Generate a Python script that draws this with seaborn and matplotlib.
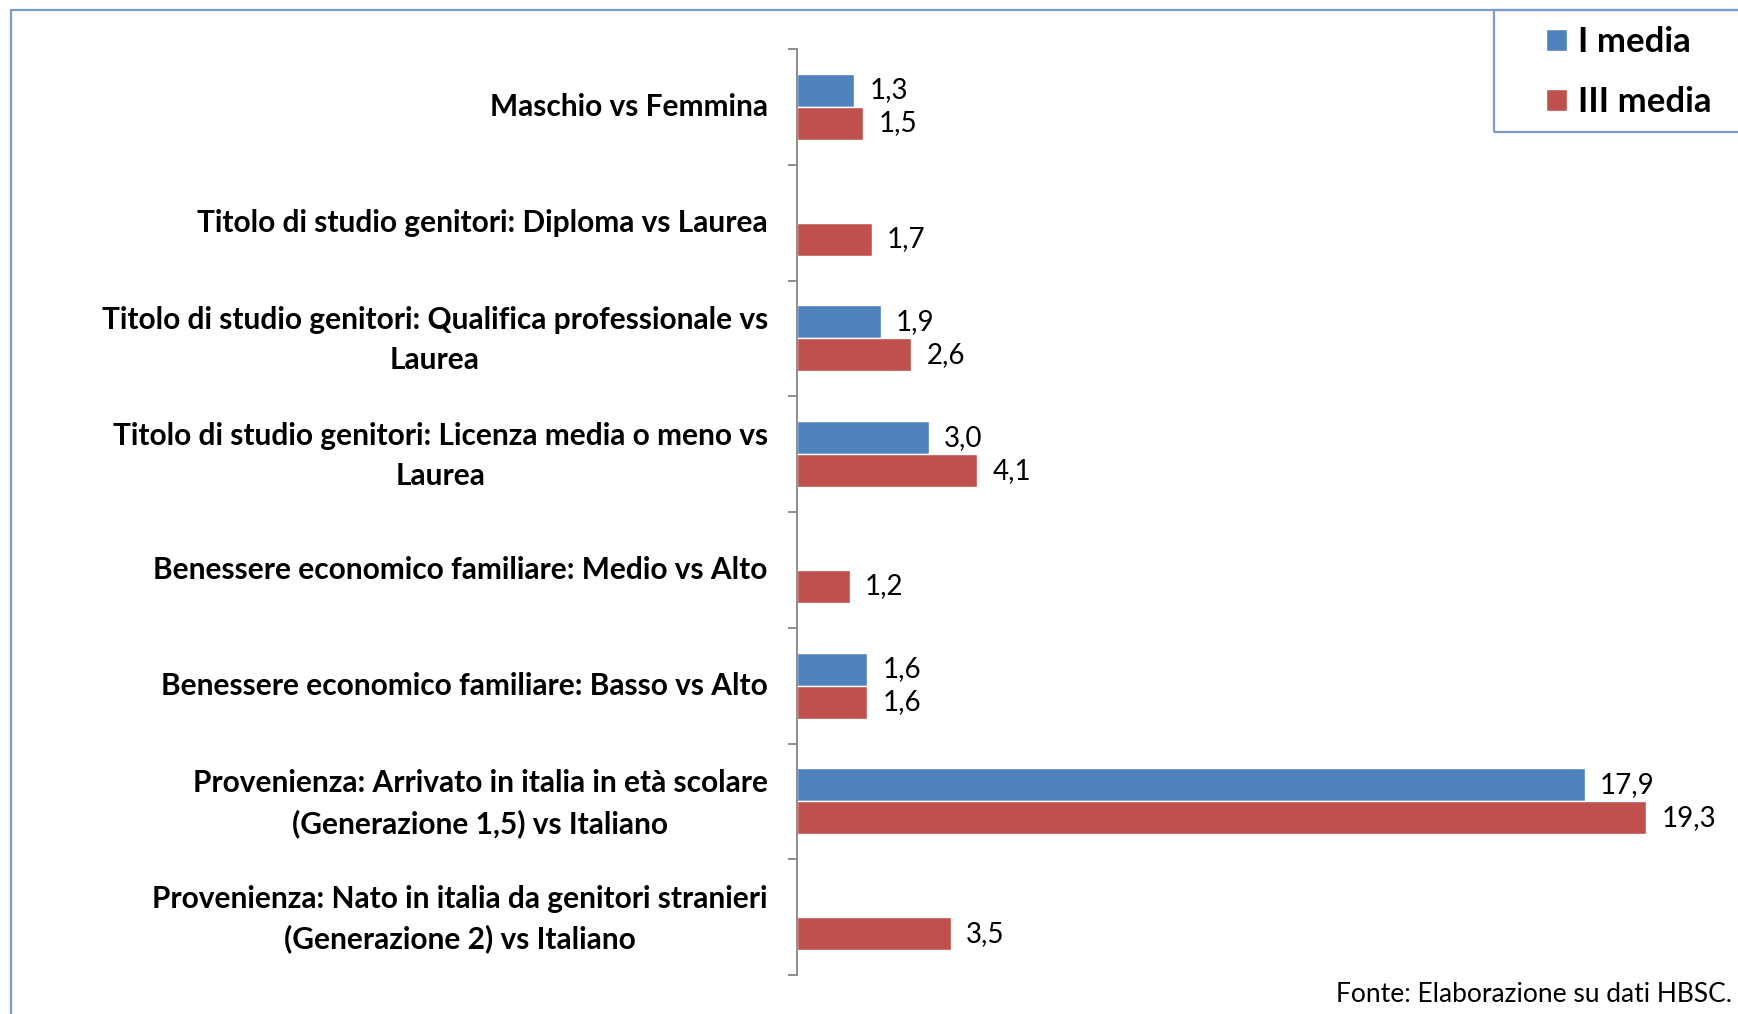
import matplotlib
matplotlib.use("Agg")
import matplotlib.pyplot as plt
import matplotlib.patches as mpatches
import matplotlib.transforms as mtransforms
import numpy as np
import pandas as pd
import seaborn as sns

categories = [
    "Maschio vs Femmina",
    "Titolo di studio genitori: Diploma vs Laurea",
    "Titolo di studio genitori: Qualifica professionale vs\nLaurea",
    "Titolo di studio genitori: Licenza media o meno vs\nLaurea",
    "Benessere economico familiare: Medio vs Alto",
    "Benessere economico familiare: Basso vs Alto",
    "Provenienza: Arrivato in italia in età scolare\n(Generazione 1,5) vs Italiano",
    "Provenienza: Nato in italia da genitori stranieri\n(Generazione 2) vs Italiano",
]
series_names = ["I media", "III media"]
i_media = [1.3, np.nan, 1.9, 3.0, np.nan, 1.6, 17.9, np.nan]
iii_media = [1.5, 1.7, 2.6, 4.1, 1.2, 1.6, 19.3, 3.5]
source_text = "Fonte: Elaborazione su dati HBSC."

colors = ["#4F81BD", "#C0504D"]
FONT = ["Lato", "DejaVu Sans"]

sns.set_theme(style="white")
plt.rcParams["font.family"] = FONT
plt.rcParams["text.color"] = "black"
plt.rcParams["ytick.color"] = "black"

rows = []
for c, a, b in zip(categories, i_media, iii_media):
    rows.append({"cat": c, "serie": series_names[0], "val": a})
    rows.append({"cat": c, "serie": series_names[1], "val": b})
df = pd.DataFrame(rows)

W, H = 1738, 1014
fig = plt.figure(figsize=(W / 100, H / 100), dpi=100)
ax = fig.add_axes([797 / W, 1 - 975 / H, 880 / W, (975 - 49) / H])

sns.barplot(data=df, y="cat", x="val", hue="serie", order=categories,
            hue_order=series_names, palette=colors, orient="h",
            width=0.57, saturation=1, ax=ax, legend=True, errorbar=None)

ax.set_xlim(0, 20)
ax.set_ylim(len(categories) - 0.5, -0.5)
ax.set_xlabel("")
ax.set_ylabel("")
ax.set_xticks([])
for s in ["top", "right", "bottom"]:
    ax.spines[s].set_visible(False)
ax.spines["left"].set_color("#868686")
ax.spines["left"].set_linewidth(1.3)

ax.set_yticks(np.arange(len(categories)))
ax.set_yticklabels(categories, fontsize=21.5, fontweight="bold",
                   multialignment="center", color="black", linespacing=1.5)
ax.tick_params(axis="y", which="major", length=0, pad=21)
ax.set_yticks(np.arange(-0.5, len(categories), 1.0), minor=True)
ax.tick_params(axis="y", which="minor", length=6.5, width=1.3,
               color="#868686", left=True)

# small vertical nudge of tick labels (Excel-like vertical centring)
for lab in ax.get_yticklabels():
    dy = 6.5 if "\n" in lab.get_text() else 2.5
    lab.set_transform(lab.get_transform() +
                      mtransforms.ScaledTranslation(0, dy / 100, fig.dpi_scale_trans))

for cont in ax.containers:
    labels = [("" if np.isnan(v) else f"{v:.1f}".replace(".", ","))
              for v in cont.datavalues]
    ax.bar_label(cont, labels=labels, padding=11, fontsize=20, color="black")

# legend
leg = ax.get_legend()
handles = leg.legend_handles
leg.remove()
fig.legend(handles, series_names, loc="center left",
           bbox_to_anchor=(1529 / W, 1 - 72 / H), frameon=False,
           prop={"family": FONT, "weight": "bold", "size": 25},
           handlelength=0.6, handleheight=0.6, handletextpad=0.3,
           labelspacing=0.8, borderpad=0)

frame_col = "#7A9CD0"
fig.patches.append(mpatches.Rectangle((11 / W, -0.05), 1.1, 1 - 10 / H + 0.05,
                                      transform=fig.transFigure, fill=False,
                                      edgecolor=frame_col, lw=1.6, zorder=0))
fig.patches.append(mpatches.Rectangle((1494 / W, 1 - 132 / H), 0.2, 122 / H,
                                      transform=fig.transFigure, fill=False,
                                      edgecolor=frame_col, lw=1.6, zorder=0))

fig.text(1732 / W, 1 - 994 / H, source_text, ha="right", va="center",
         fontsize=19)

fig.savefig("out.png", dpi=100)
